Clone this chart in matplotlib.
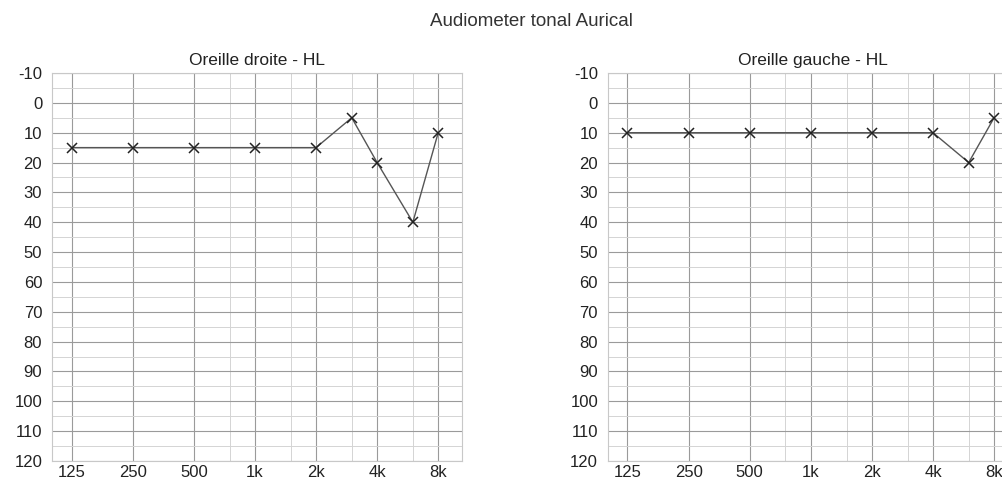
import matplotlib
matplotlib.use("Agg")
import matplotlib.pyplot as plt
from matplotlib.ticker import FixedLocator, NullFormatter

plt.rcParams['font.family'] = ['Liberation Sans', 'DejaVu Sans']
plt.rcParams['axes.unicode_minus'] = False

freqs = [125, 250, 500, 1000, 2000, 3000, 4000, 6000, 8000]
right_ear = [15, 15, 15, 15, 15, 5, 20, 40, 10]
left_freqs = [125, 250, 500, 1000, 2000, 4000, 6000, 8000]
left_ear = [10, 10, 10, 10, 10, 10, 20, 5]
major_freqs = [125, 250, 500, 1000, 2000, 4000, 8000]
major_labels = ["125", "250", "500", "1k", "2k", "4k", "8k"]
minor_freqs = [750, 1500, 3000, 6000]
db_ticks = list(range(-10, 121, 10))
db_minor = list(range(-5, 121, 10))

fig = plt.figure(figsize=(10.03, 4.79), dpi=100)
fig.text(0.53, 0.955, "Audiometer tonal Aurical", ha="center", va="center",
         fontsize=13.5, color="#333333")

def draw(ax, x, y, title):
    ax.set_xscale("log")
    ax.set_xlim(100, 10500)
    ax.set_ylim(120, -10)
    ax.xaxis.set_major_locator(FixedLocator(major_freqs))
    ax.set_xticklabels(major_labels)
    ax.xaxis.set_minor_locator(FixedLocator(minor_freqs))
    ax.xaxis.set_minor_formatter(NullFormatter())
    ax.yaxis.set_major_locator(FixedLocator(db_ticks))
    ax.yaxis.set_minor_locator(FixedLocator(db_minor))
    ax.grid(which="major", color="#9a9a9a", linewidth=0.8)
    ax.grid(which="minor", color="#d4d4d4", linewidth=0.7)
    ax.tick_params(which="both", length=0, labelsize=12, colors="#222222")
    ax.tick_params(axis="y", pad=7)
    ax.tick_params(axis="x", pad=3)
    for s in ax.spines.values():
        s.set_color("#c8c8c8")
        s.set_linewidth(0.8)
    ax.plot(x, y, color="#555555", linewidth=1.0, marker="x",
            markersize=7, markeredgecolor="#222222", markeredgewidth=1.1)
    ax.set_title(title, fontsize=12.5, color="#222222", pad=6)

ax1 = fig.add_axes([0.0518, 0.0376, 0.409, 0.81])
draw(ax1, freqs, right_ear, "Oreille droite - HL")
ax2 = fig.add_axes([0.606, 0.0376, 0.409, 0.81])
draw(ax2, left_freqs, left_ear, "Oreille gauche - HL")

fig.savefig("out.png", dpi=100)
